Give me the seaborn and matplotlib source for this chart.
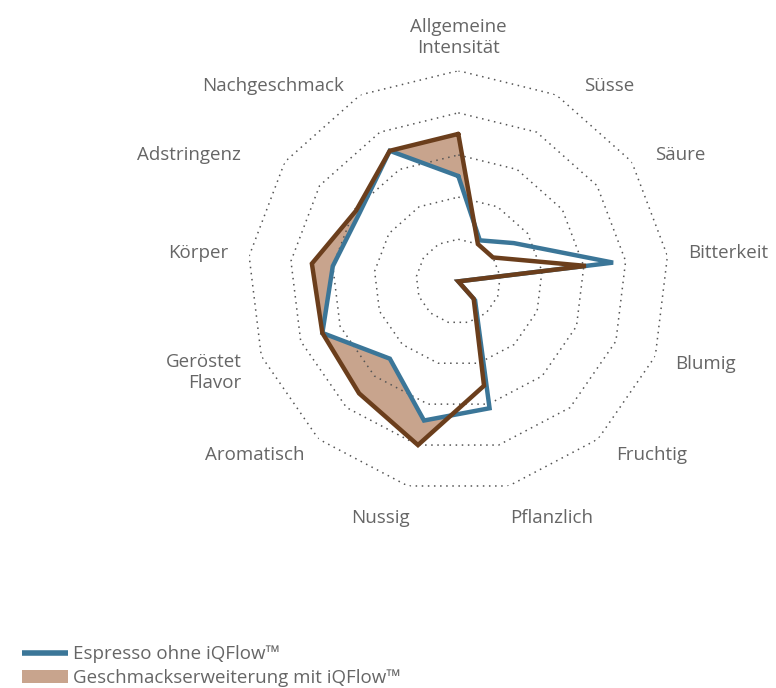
import numpy as np
import matplotlib
matplotlib.use('Agg')
import matplotlib.pyplot as plt
from matplotlib.lines import Line2D
from matplotlib.patches import Patch
import seaborn as sns

# ── data ──────────────────────────────────────
categories = ["Allgemeine\nIntensität", "Süsse", "Säure", "Bitterkeit", "Blumig",
              "Fruchtig", "Pflanzlich", "Nussig", "Aromatisch", "Geröstet\nFlavor",
              "Körper", "Adstringenz", "Nachgeschmack"]
espresso = [2.5, 1.1, 1.6, 3.7, 0.0, 0.6, 3.1, 3.4, 2.45, 3.45, 3.0, 2.85, 3.5]
erweiterung = [3.5, 1.0, 1.0, 3.05, 0.0, 0.55, 2.55, 4.0, 3.55, 3.45, 3.5, 2.95, 3.5]
series_names = ["Espresso ohne iQFlow™", "Geschmackserweiterung mit iQFlow™"]
ring_levels = [1, 2, 3, 4, 5]

# ── style ─────────────────────────────────────
sns.set_theme(style='white')
plt.rcParams['font.family'] = ['Open Sans', 'DejaVu Sans']

BLUE = '#3b7698'
BROWN = '#6b3e1c'
TAN = '#c8a48d'
TEXT = '#666666'
FS = 13.5

W, H = 776, 688
cx, cy, R = 458.3, 281.4, 210.7

fig = plt.figure(figsize=(W / 100, H / 100), dpi=100)
ax = fig.add_axes([(cx - R) / W, (H - cy - R) / H, 2 * R / W, 2 * R / H], projection='polar')
ax.set_theta_zero_location('N')
ax.set_theta_direction(-1)
ax.set_ylim(0, 5)
ax.set_axis_off()

n = len(categories)
theta = np.linspace(0, 2 * np.pi, n, endpoint=False)
theta_c = np.append(theta, 2 * np.pi)
esp_c = np.append(espresso, espresso[0])
erw_c = np.append(erweiterung, erweiterung[0])

# fills: tan for the extended profile, white for the base profile on top
ax.fill(theta_c, erw_c, color=TAN, lw=0, zorder=1)
ax.fill(theta_c, esp_c, color='white', lw=0, zorder=2)

# dotted polygon rings
for lvl in ring_levels:
    ax.plot(theta_c, [lvl] * len(theta_c), color='#555555', lw=1.1,
            ls=(0, (1, 3)), zorder=3)

sns.lineplot(x=theta_c, y=esp_c, ax=ax, sort=False, estimator=None,
             color=BLUE, lw=3.2, solid_joinstyle='miter', zorder=4)
sns.lineplot(x=theta_c, y=erw_c, ax=ax, sort=False, estimator=None,
             color=BROWN, lw=3.2, solid_joinstyle='miter', zorder=5)

# category labels
label_r = 232 / R * 5
nudge = {"Allgemeine\nIntensität": (0, 8), "Süsse": (18, 10), "Säure": (6, 5),
         "Fruchtig": (4, 0), "Pflanzlich": (-4, 2), "Nussig": (7, 2),
         "Geröstet\nFlavor": (0, 9), "Adstringenz": (-26, 5), "Nachgeschmack": (-6, 10)}
for t, lab in zip(theta, categories):
    s, c = np.sin(t), np.cos(t)
    ha = 'left' if s > 0.1 else ('right' if s < -0.1 else 'center')
    va = 'bottom' if c > 0.95 else ('top' if c < -0.95 else 'center')
    dx, dy = nudge.get(lab, (0, 0))
    ax.annotate(lab, xy=(t, label_r), xytext=(dx * 0.72, -dy * 0.72),
                textcoords='offset points', ha=ha, va=va, multialignment=ha,
                fontsize=FS, color=TEXT, linespacing=1.25, annotation_clip=False)

# legend
handles = [Line2D([0], [0], color=BLUE, lw=4, solid_capstyle='butt'),
           Patch(facecolor=TAN, edgecolor='none')]
fig.legend(handles, series_names, loc='lower left', bbox_to_anchor=(22 / W, 1 / H),
           frameon=False, fontsize=FS, labelcolor=TEXT, handlelength=2.45,
           handletextpad=0.28, labelspacing=0.3, borderpad=0, borderaxespad=0)

plt.savefig('out.png', dpi=100)
